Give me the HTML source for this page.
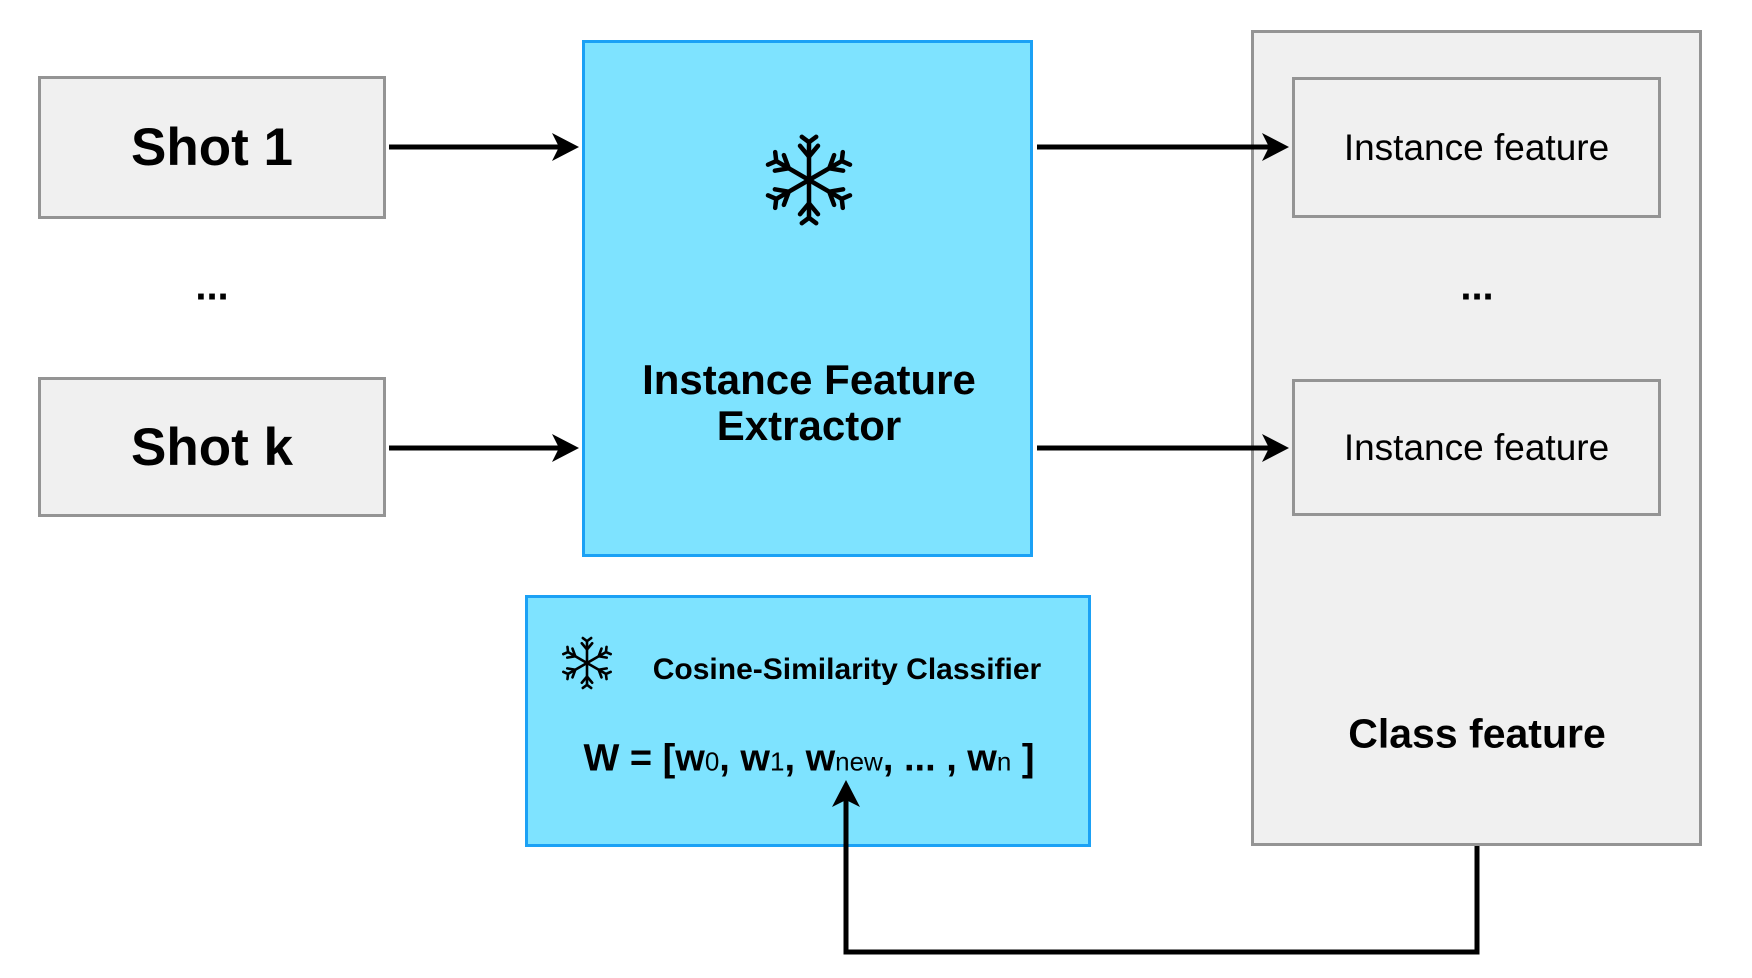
<!DOCTYPE html>
<html><head><meta charset="utf-8"><style>
body{margin:0;width:1752px;height:978px;background:#fff;overflow:hidden;position:relative;font-family:"Liberation Sans",sans-serif}
.b{position:absolute;box-sizing:border-box;display:flex;align-items:center;justify-content:center;text-align:center;color:#000}
.g{background:#f0f0f0;border:3px solid #949494}
.c{background:#7ee3ff;border:3px solid #1ba1f5}
.t{position:absolute;transform:translate(-50%,-50%);white-space:nowrap;color:#000}
</style></head><body>
<div class="b g" style="left:1251px;top:30px;width:451px;height:816px"></div>
<div class="b g" style="left:38px;top:76px;width:348px;height:143px;font-weight:bold;font-size:53px">Shot 1</div>
<div class="b g" style="left:38px;top:377px;width:348px;height:140px;font-weight:bold;font-size:53px">Shot k</div>
<div class="b g" style="left:1292px;top:77px;width:369px;height:141px;font-size:37px">Instance feature</div>
<div class="b g" style="left:1292px;top:379px;width:369px;height:137px;font-size:37px">Instance feature</div>
<div class="b c" style="left:582px;top:40px;width:451px;height:517px"></div>
<div class="b c" style="left:525px;top:595px;width:566px;height:252px"></div>
<div class="t" style="left:212px;top:287px;font-weight:bold;font-size:40px">...</div>
<div class="t" style="left:1477px;top:287px;font-weight:bold;font-size:40px">...</div>
<div class="t" style="left:809px;top:403px;font-weight:bold;font-size:42px;line-height:46px;text-align:center">Instance Feature<br>Extractor</div>
<div class="t" style="left:1477px;top:734px;font-weight:bold;font-size:41px">Class feature</div>
<div class="t" style="left:847px;top:670px;font-weight:bold;font-size:30px">Cosine-Similarity Classifier</div>
<div class="t" style="left:809px;top:759px;font-weight:bold;font-size:38px">W = [w<span style="font-size:26px;font-weight:normal">0</span>, w<span style="font-size:26px;font-weight:normal">1</span>, w<span style="font-size:26px;font-weight:normal">new</span>, ... , w<span style="font-size:26px;font-weight:normal">n</span> ]</div>
<svg width="1752" height="978" style="position:absolute;left:0;top:0">
<defs>
<g id="sf" stroke="#000" stroke-width="5" fill="none" stroke-linecap="round">
<g id="arm"><line x1="0" y1="0" x2="0" y2="-42"/><polyline points="-10,-38 0,-26 10,-38"/><polyline points="-8,-48 0,-42 8,-48"/></g>
<use href="#arm" transform="rotate(60)"/><use href="#arm" transform="rotate(120)"/><use href="#arm" transform="rotate(180)"/><use href="#arm" transform="rotate(240)"/><use href="#arm" transform="rotate(300)"/>
</g>
</defs>
<g stroke="#000" stroke-width="5" fill="none">
<line x1="389" y1="147" x2="570" y2="147"/>
<line x1="389" y1="448" x2="570" y2="448"/>
<line x1="1037" y1="147" x2="1279" y2="147"/>
<line x1="1037" y1="448" x2="1279" y2="448"/>
<polyline points="1477,846 1477,952 846,952 846,795"/>
</g>
<g fill="#000">
<path d="M579,147 L552,133 L559,147 L552,161Z"/>
<path d="M579,448 L552,434 L559,448 L552,462Z"/>
<path d="M1289,147 L1262,133 L1269,147 L1262,161Z"/>
<path d="M1289,448 L1262,434 L1269,448 L1262,462Z"/>
<path d="M846,780 L832,807 L846,800 L860,807Z"/>
</g>
<use href="#sf" transform="translate(809,180) scale(0.9)"/>
<use href="#sf" transform="translate(587,663) scale(0.52)"/>
</svg>
</body></html>
